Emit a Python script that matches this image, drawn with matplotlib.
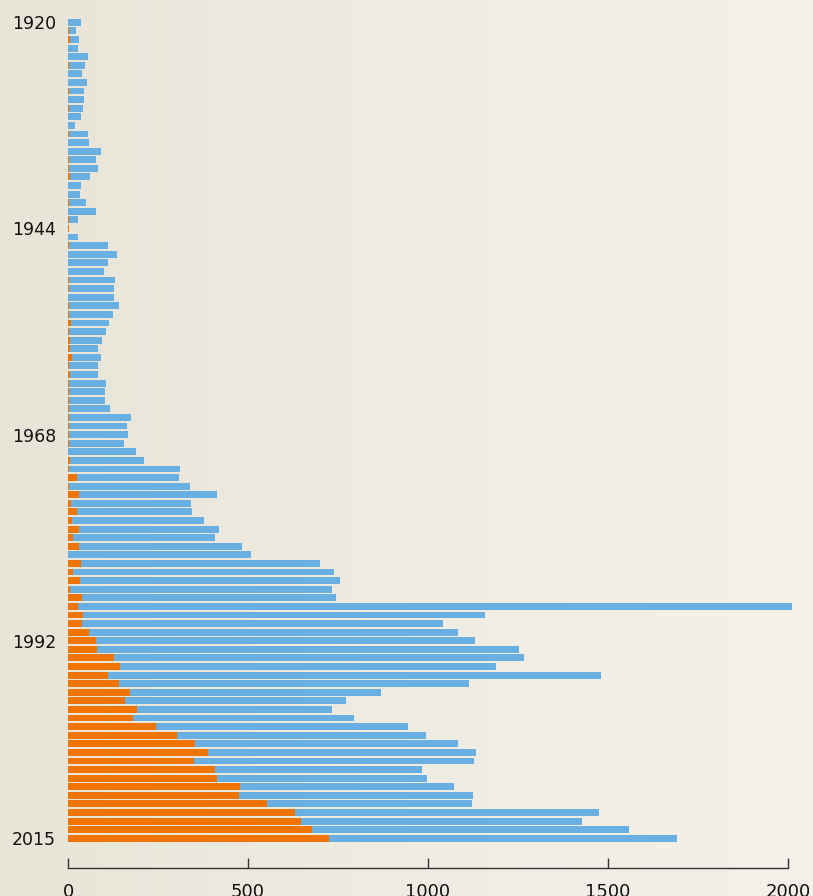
import numpy as np
import matplotlib
matplotlib.use("Agg")
import matplotlib.pyplot as plt
from matplotlib.colors import LinearSegmentedColormap

years = list(range(1920, 2016))
total = [
    36, 22, 31, 28, 56, 47, 39, 53, 44, 44,
    42, 36, 19, 56, 58, 92, 78, 83, 61, 36,
    33, 50, 78, 28, 0, 28, 111, 136, 111, 100,
    130, 128, 128, 142, 125, 114, 106, 94, 83, 92,
    83, 83, 106, 103, 103, 117, 175, 164, 167, 156,
    189, 211, 311, 308, 339, 414, 342, 344, 378, 419,
    408, 483, 508, 700, 739, 756, 733, 744, 2011, 1157,
    1041, 1083, 1130, 1253, 1267, 1189, 1480, 1114, 869, 772,
    733, 795, 944, 995, 1083, 1133, 1127, 983, 998, 1073,
    1124, 1121, 1474, 1427, 1558, 1692,
]
subset = [
    1, 3, 5, 0, 0, 4, 1, 0, 3, 0,
    2, 0, 0, 2, 0, 1, 2, 3, 5, 1,
    0, 3, 0, 3, 2, 1, 3, 0, 0, 1,
    3, 3, 0, 3, 2, 8, 2, 5, 5, 11,
    3, 5, 2, 3, 2, 3, 2, 3, 3, 3,
    0, 5, 2, 25, 3, 31, 8, 25, 11, 31,
    14, 31, 0, 36, 14, 33, 5, 39, 27, 41,
    39, 59, 77, 80, 129, 144, 112, 141, 172, 158,
    193, 181, 244, 302, 354, 389, 351, 409, 414, 478,
    475, 553, 630, 648, 679, 726,
]
ytick_years = [1920, 1944, 1968, 1992, 2015]
xticks = [0, 500, 1000, 1500, 2000]

W, H = 813, 896
fig = plt.figure(figsize=(W / 100, H / 100), dpi=100)

# paper-like background gradient
bg = fig.add_axes([0, 0, 1, 1], zorder=0)
grad = np.linspace(0, 1, 256)[None, :]
cmap = LinearSegmentedColormap.from_list("paper", ["#e8e4d7", "#efece3", "#f3f1ea"])
bg.imshow(grad, aspect="auto", cmap=cmap, extent=[0, 1, 0, 1])
bg.axis("off")

ax = fig.add_axes([68 / W, 1 - 868 / H, 720 / W, 868 / H], zorder=1)
ax.patch.set_alpha(0)

blue = "#6aafe2"
orange = "#f07400"
ax.barh(years, total, height=0.8, color=blue, clip_on=False, zorder=2)
ax.barh(years, subset, height=0.8, color=orange, clip_on=False, zorder=3)

ax.set_xlim(0, 2000)
ax.set_ylim(2018.46, 1917.40)

for s in ["top", "right", "left"]:
    ax.spines[s].set_visible(False)
ax.spines["bottom"].set_color("#333333")
ax.spines["bottom"].set_linewidth(1.0)

ax.set_xticks(xticks)
ax.set_xticklabels([str(v) for v in xticks])
ax.tick_params(axis="x", direction="in", length=7.5, width=1.0, color="#333333",
               pad=10.5, labelsize=13, labelcolor="#111111")

ax.set_yticks(ytick_years)
ax.set_yticklabels([str(y) for y in ytick_years])
ax.tick_params(axis="y", length=0, pad=40.3, labelsize=12.5, labelcolor="#111111")
for lab in ax.get_yticklabels():
    lab.set_horizontalalignment("left")

fig.savefig("out.png", dpi=100)
